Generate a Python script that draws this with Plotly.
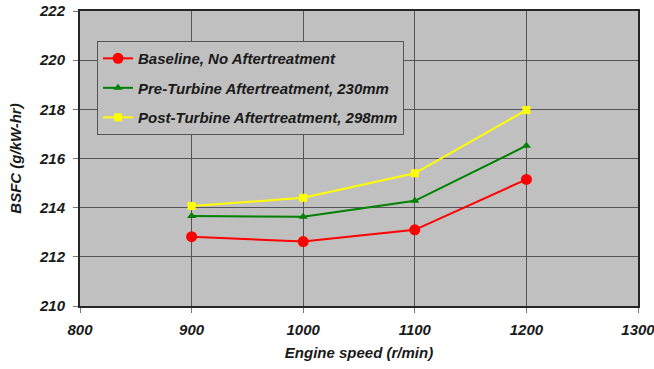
import plotly.graph_objects as go

# Engine speed (r/min) and BSFC (g/kW-hr) for each configuration
speed = [900, 1000, 1100, 1200]
baseline = [212.82, 212.62, 213.1, 215.15]
pre_turbine = [213.66, 213.63, 214.28, 216.52]
post_turbine = [214.07, 214.4, 215.4, 217.97]

series = [
    ("Baseline, No Aftertreatment", baseline, "#ff0000", "circle", 11),
    ("Pre-Turbine Aftertreatment, 230mm", pre_turbine, "#008000", "triangle-up", 8),
    ("Post-Turbine Aftertreatment, 298mm", post_turbine, "#ffff00", "square", 8),
]

FAMILY = "Liberation Sans, Arial, sans-serif"
font_main = dict(family=FAMILY, size=15, color="#1a1a1a", weight="bold", style="italic")

fig = go.Figure()
for name, vals, color, symbol, size in series:
    fig.add_trace(go.Scatter(
        x=speed, y=vals, name=name, legendgroup=name, mode="lines+markers",
        line=dict(color=color, width=2),
        marker=dict(color=color, symbol=symbol, size=size),
    ))

axis_common = dict(
    showline=True, linecolor="#262626", linewidth=2, mirror=True,
    showgrid=True, gridcolor="#555555", gridwidth=1,
    ticks="outside", ticklen=5, tickcolor="#777777",
    tickfont=font_main, zeroline=False, automargin=False,
    ticklabeloverflow="allow",
)

fig.update_layout(
    width=654, height=369,
    margin=dict(l=80, r=16, t=11, b=63),
    paper_bgcolor="white", plot_bgcolor="#c0c0c0",
    font=font_main,
    showlegend=True,
    legend=dict(
        x=0.0305, y=0.898, xanchor="left", yanchor="top",
        bgcolor="#c0c0c0", bordercolor="#555555", borderwidth=1,
        font=dict(family=FAMILY, size=15, color="#1a1a1a", weight="bold", style="italic"),
        tracegroupgap=7, itemwidth=30,
    ),
    xaxis=dict(range=[800, 1300], dtick=100, ticklabelstandoff=4,
               title=dict(text="Engine speed (r/min)", font=font_main, standoff=10),
               **axis_common),
    yaxis=dict(range=[210, 222], dtick=2, ticklabelstandoff=5,
               title=dict(text="BSFC (g/kW-hr)", font=font_main, standoff=14),
               **axis_common),
)

fig.write_html("out.html")
